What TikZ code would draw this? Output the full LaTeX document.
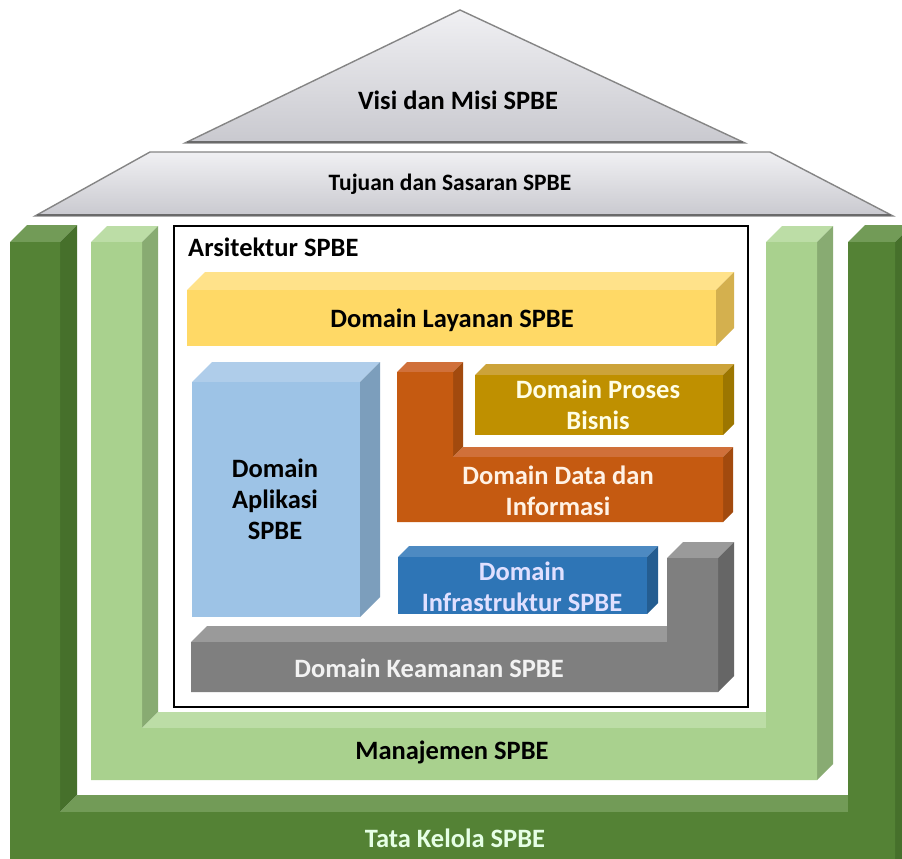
\documentclass[tikz,border=0pt]{standalone}
\usepackage{fontspec}
\setmainfont{Carlito}
\definecolor{dgF}{HTML}{548235}\definecolor{dgS}{HTML}{46702B}\definecolor{dgT}{HTML}{729B57}
\definecolor{lgF}{HTML}{A9D18E}\definecolor{lgS}{HTML}{88AB72}\definecolor{lgT}{HTML}{BCDDA6}
\definecolor{layF}{HTML}{FFD966}\definecolor{layS}{HTML}{D4B04E}\definecolor{layT}{HTML}{FFE28A}
\definecolor{apF}{HTML}{9DC3E6}\definecolor{apS}{HTML}{7C9EBC}\definecolor{apT}{HTML}{AFCDEA}
\definecolor{daF}{HTML}{C55A11}\definecolor{daS}{HTML}{A24A0E}\definecolor{daT}{HTML}{D0703A}
\definecolor{prF}{HTML}{BF9000}\definecolor{prS}{HTML}{9C7600}\definecolor{prT}{HTML}{CCA33A}
\definecolor{inF}{HTML}{2E75B6}\definecolor{inS}{HTML}{245D91}\definecolor{inT}{HTML}{4D8AC2}
\definecolor{keF}{HTML}{7F7F7F}\definecolor{keS}{HTML}{666666}\definecolor{keT}{HTML}{9A9A9A}
\definecolor{roofA}{HTML}{F0F0F3}\definecolor{roofB}{HTML}{C9C9CF}\definecolor{roofL}{HTML}{858585}
\newcommand{\cubo}[6]{%
  \fill[#6T] (#1,#2) -- ++(#5,-#5) -- ({#3+#5},{#2-#5}) -- (#3,#2) -- cycle;
  \fill[#6S] (#3,#2) -- ({#3+#5},{#2-#5}) -- ({#3+#5},{#4-#5}) -- (#3,#4) -- cycle;
  \fill[#6F] (#1,#2) rectangle (#3,#4);}
\tikzset{
  lbl/.style={font=\fontsize{26.5}{31}\selectfont\bfseries, align=center, inner sep=0pt},
  roof/.style={top color=roofA, bottom color=roofB, draw=roofL, line width=1.4pt, line join=miter}
}
\begin{document}
\begin{tikzpicture}[x=1pt,y=-1pt]
\useasboundingbox (0,0) rectangle (902,859);
\fill[white] (0,0) rectangle (902,859);
% ---- dark green U (Tata Kelola)
\begin{scope}
\clip (0,0) rectangle (902,859);
\def\d{17}
\fill[dgT] (10,242) -- ++(\d,-\d) -- (60+\d,242-\d) -- (60,242) -- cycle;
\fill[dgS] (60,242) -- (60+\d,242-\d) -- (60+\d,812-\d) -- (60,812) -- cycle;
\fill[dgT] (60,812) -- (60+\d,812-\d) -- (848+\d,812-\d) -- (848,812) -- cycle;
\fill[dgT] (848,242) -- ++(\d,-\d) -- (895+\d,242-\d) -- (895,242) -- cycle;
\fill[dgS] (895,242) -- (895+\d,242-\d) -- (895+\d,880) -- (895,880) -- cycle;
\fill[dgF] (10,242) -- (60,242) -- (60,812) -- (848,812) -- (848,242) -- (895,242) -- (895,880) -- (10,880) -- cycle;
\end{scope}
% ---- light green U (Manajemen)
\def\d{16}
\fill[lgT] (91,242) -- ++(\d,-\d) -- (142+\d,242-\d) -- (142,242) -- cycle;
\fill[lgS] (142,242) -- (142+\d,242-\d) -- (142+\d,728-\d) -- (142,728) -- cycle;
\fill[lgT] (142,728) -- (142+\d,728-\d) -- (766+\d,728-\d) -- (766,728) -- cycle;
\fill[lgT] (766,242) -- ++(\d,-\d) -- (817+\d,242-\d) -- (817,242) -- cycle;
\fill[lgS] (817,242) -- (817+\d,242-\d) -- (817+\d,780-\d) -- (817,780) -- cycle;
\fill[lgF] (91,242) -- (142,242) -- (142,728) -- (766,728) -- (766,242) -- (817,242) -- (817,780) -- (91,780) -- cycle;
% ---- roof
\draw[roof] (460,10) -- (745,143) -- (185,143) -- cycle;
\draw[roofL!80!black, line width=2.5pt] (187,142) -- (743,142);
\draw[roof] (150,152) -- (770,152) -- (893,216) -- (35,216) -- cycle;
\draw[roofL!80!black, line width=2.5pt] (37,215) -- (891,215);
% ---- architecture frame
\draw[line width=2.6pt, fill=white] (174,226) rectangle (748,707);
% Layanan
\cubo{187}{290}{716}{346}{18}{lay}
% Aplikasi
\cubo{192}{382}{360}{617}{20}{ap}
% Data (L shape)
\def\d{10}
\fill[daT] (397,372) -- ++(\d,-\d) -- (453+\d,372-\d) -- (453,372) -- cycle;
\fill[daS] (453,372) -- (453+\d,372-\d) -- (453+\d,457-\d) -- (453,457) -- cycle;
\fill[daT] (453,457) -- (453+\d,457-\d) -- (723+\d,457-\d) -- (723,457) -- cycle;
\fill[daS] (723,457) -- (723+\d,457-\d) -- (723+\d,522-\d) -- (723,522) -- cycle;
\fill[daF] (397,372) -- (453,372) -- (453,457) -- (723,457) -- (723,522) -- (397,522) -- cycle;
% Proses
\cubo{475}{375}{723}{435}{11}{pr}
% Infrastruktur
\cubo{398}{557}{647}{614}{11}{in}
% Keamanan (L shape)
\def\d{16}
\fill[keT] (191,642) -- ++(\d,-\d) -- (667+\d,642-\d) -- (667,642) -- cycle;
\fill[keT] (667,558) -- ++(\d,-\d) -- (718+\d,558-\d) -- (718,558) -- cycle;
\fill[keS] (718,558) -- (718+\d,558-\d) -- (718+\d,692-\d) -- (718,692) -- cycle;
\fill[keF] (191,642) -- (667,642) -- (667,558) -- (718,558) -- (718,692) -- (191,692) -- cycle;
% ---- labels
\node[lbl] (visi) at (458,100) {Visi dan Misi SPBE};
\node[lbl, font=\fontsize{23.5}{28}\selectfont\bfseries] (tujuan) at (450,184) {Tujuan dan Sasaran SPBE};
\node[lbl, anchor=west] (arsi) at (188,247) {Arsitektur SPBE};
\node[lbl] (layanan) at (452,320) {Domain Layanan SPBE};
\node[lbl] (aplikasi) at (275,499) {Domain\\Aplikasi\\SPBE};
\node[lbl, text=white!90!yellow] (proses) at (598,405) {Domain Proses\\Bisnis};
\node[lbl, text=white!90!orange] (data) at (558,491) {Domain Data dan\\Informasi};
\node[lbl, text=white!88!blue] (infra) at (522,587) {Domain\\Infrastruktur SPBE};
\node[lbl, text=white!95!black] (keamanan) at (429,668) {Domain Keamanan SPBE};
\node[lbl] (manajemen) at (452,752) {Manajemen SPBE};
\node[lbl, text=white!90!green] (tata) at (455,838) {Tata Kelola SPBE};
\end{tikzpicture}
\end{document}
